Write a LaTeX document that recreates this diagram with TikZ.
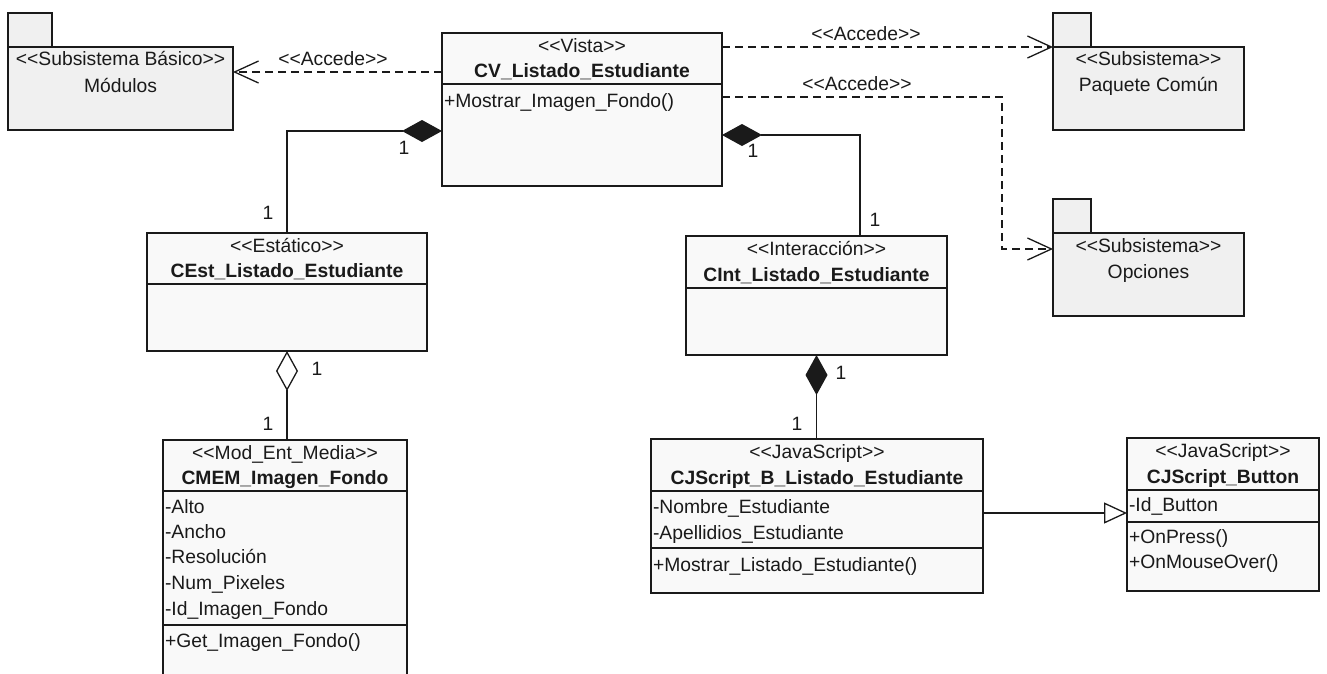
\documentclass[tikz,border=0pt]{standalone}
\usepackage{fontspec}
\setmainfont{Liberation Sans}
\usetikzlibrary{arrows.meta}

\definecolor{classfill}{HTML}{F9F9F9}
\definecolor{pkgfill}{HTML}{F0F0F0}
\definecolor{ink}{HTML}{1A1A1A}

% guillemet-like stereotype brackets kept as two separate characters
\newcommand\stereo[1]{<\kern0pt<#1>\kern0pt>}

\begin{document}
\begin{tikzpicture}[x=1pt,y=-1pt,
  every node/.style={font=\fontsize{19.3}{23}\selectfont, inner sep=0pt, outer sep=0pt, text=ink},
  classbox/.style={draw=ink, line width=1.6pt, fill=classfill, anchor=north west},
  pkgbox/.style={draw=ink, line width=1.6pt, fill=pkgfill, anchor=north west},
  txt/.style={anchor=base},
  cname/.style={anchor=base, font=\fontsize{19.3}{23}\selectfont\bfseries},
  attr/.style={anchor=base west},
  mult/.style={anchor=center},
  sep/.style={draw=ink, line width=1.6pt},
  dep/.style={draw=ink, line width=1.3pt, dash pattern=on 8pt off 5pt,
    -{Straight Barb[length=24pt,width=22pt]}},
  comp/.style={draw=ink, line width=1.3pt, {Diamond[length=40pt,width=22pt]}-},
  aggr/.style={draw=ink, line width=1.3pt, {Diamond[open,length=40pt,width=22pt,fill=white]}-},
  gen/.style={draw=ink, line width=1.3pt, -{Triangle[open,length=23pt,width=21pt,fill=white]}}
]
\useasboundingbox (0,0) rectangle (1327,673);
\clip (0,0) rectangle (1327,673);
\fill[white] (0,0) rectangle (1327,673);

% ---------- packages ----------
\node[pkgbox, minimum width=44pt, minimum height=34pt] (modtab) at (8,13) {};
\node[pkgbox, minimum width=225pt, minimum height=83pt] (mod) at (8,47) {};
\node[txt] (mod-st) at (120.5,65) {\stereo{Subsistema Básico}};
\node[txt] (mod-nm) at (120.5,92) {Módulos};

\node[pkgbox, minimum width=38pt, minimum height=34pt] (pctab) at (1053,13) {};
\node[pkgbox, minimum width=191pt, minimum height=83pt] (pc) at (1053,47) {};
\node[txt] (pc-st) at (1148.5,65) {\stereo{Subsistema}};
\node[txt] (pc-nm) at (1148.5,91) {Paquete Común};

\node[pkgbox, minimum width=38pt, minimum height=34pt] (optab) at (1053,199) {};
\node[pkgbox, minimum width=191pt, minimum height=83pt] (op) at (1053,233) {};
\node[txt] (op-st) at (1148.5,252) {\stereo{Subsistema}};
\node[txt] (op-nm) at (1148.5,278) {Opciones};

% ---------- classes ----------
% CV_Listado_Estudiante
\node[classbox, minimum width=280pt, minimum height=153pt] (cv) at (442,33) {};
\draw[sep] ([yshift=-51pt]cv.north west) -- ([yshift=-51pt]cv.north east);
\node[txt] (cv-st) at (582,52) {\stereo{Vista}};
\node[cname] (cv-nm) at (582,77) {CV\_Listado\_Estudiante};
\node[attr] (cv-m1) at (444,107) {+Mostrar\_Imagen\_Fondo()};

% CEst_Listado_Estudiante
\node[classbox, minimum width=280pt, minimum height=118pt] (cest) at (147,233) {};
\draw[sep] ([yshift=-51pt]cest.north west) -- ([yshift=-51pt]cest.north east);
\node[txt] (cest-st) at (287,252) {\stereo{Estático}};
\node[cname] (cest-nm) at (287,277) {CEst\_Listado\_Estudiante};

% CMEM_Imagen_Fondo
\node[classbox, minimum width=244pt, minimum height=270pt] (cmem) at (163,440) {};
\draw[sep] ([yshift=-51pt]cmem.north west) -- ([yshift=-51pt]cmem.north east);
\draw[sep] ([yshift=-185pt]cmem.north west) -- ([yshift=-185pt]cmem.north east);
\node[txt] (cmem-st) at (285,459) {\stereo{Mod\_Ent\_Media}};
\node[cname] (cmem-nm) at (285,484) {CMEM\_Imagen\_Fondo};
\node[attr] (cmem-a1) at (165,513) {-Alto};
\node[attr] (cmem-a2) at (165,538) {-Ancho};
\node[attr] (cmem-a3) at (165,563) {-Resolución};
\node[attr] (cmem-a4) at (165,589) {-Num\_Pixeles};
\node[attr] (cmem-a5) at (165,615) {-Id\_Imagen\_Fondo};
\node[attr] (cmem-m1) at (165,647) {+Get\_Imagen\_Fondo()};

% CInt_Listado_Estudiante
\node[classbox, minimum width=261pt, minimum height=119pt] (cint) at (686,236) {};
\draw[sep] ([yshift=-52pt]cint.north west) -- ([yshift=-52pt]cint.north east);
\node[txt] (cint-st) at (816.5,255) {\stereo{Interacción}};
\node[cname] (cint-nm) at (816.5,281) {CInt\_Listado\_Estudiante};

% CJScript_B_Listado_Estudiante
\node[classbox, minimum width=332pt, minimum height=154pt] (cjsb) at (651,439) {};
\draw[sep] ([yshift=-52pt]cjsb.north west) -- ([yshift=-52pt]cjsb.north east);
\draw[sep] ([yshift=-109pt]cjsb.north west) -- ([yshift=-109pt]cjsb.north east);
\node[txt] (cjsb-st) at (817,458) {\stereo{JavaScript}};
\node[cname] (cjsb-nm) at (817,484) {CJScript\_B\_Listado\_Estudiante};
\node[attr] (cjsb-a1) at (653,513) {-Nombre\_Estudiante};
\node[attr] (cjsb-a2) at (653,539) {-Apellidios\_Estudiante};
\node[attr] (cjsb-m1) at (653,571) {+Mostrar\_Listado\_Estudiante()};

% CJScript_Button
\node[classbox, minimum width=192pt, minimum height=153pt] (btn) at (1127,438) {};
\draw[sep] ([yshift=-52pt]btn.north west) -- ([yshift=-52pt]btn.north east);
\draw[sep] ([yshift=-84pt]btn.north west) -- ([yshift=-84pt]btn.north east);
\node[txt] (btn-st) at (1223,457) {\stereo{JavaScript}};
\node[cname] (btn-nm) at (1223,483) {CJScript\_Button};
\node[attr] (btn-a1) at (1129,511) {-Id\_Button};
\node[attr] (btn-m1) at (1129,543) {+OnPress()};
\node[attr] (btn-m2) at (1129,568) {+OnMouseOver()};

% ---------- dependencies ----------
\draw[dep] ([yshift=-39pt]cv.north west) -- ([yshift=-25pt]mod.north east);
\node[txt] (acc1) at (333,65) {\stereo{Accede}};

\draw[dep] ([yshift=-14pt]cv.north east) -- (pc.north west);
\node[txt] (acc2) at (866,40) {\stereo{Accede}};

\draw[dep] ([yshift=-64pt]cv.north east) -| ([xshift=-51pt,yshift=-16pt]op.north west)
  -- ([yshift=-16pt]op.north west);
\node[txt] (acc3) at (857,90) {\stereo{Accede}};

% ---------- compositions / aggregation ----------
\draw[comp] ([yshift=-98pt]cv.north west) -| (cest.north);
\node[mult] (m1) at (404,148) {1};
\node[mult] (m2) at (268,213) {1};

\draw[comp] ([yshift=-102pt]cv.north east) -| ([xshift=43.5pt]cint.north);
\node[mult] (m3) at (753,151) {1};
\node[mult] (m4) at (875,220) {1};

\draw[aggr] (cest.south) -- (cest.south |- cmem.north);
\node[mult] (m5) at (317,369) {1};
\node[mult] (m6) at (268,424) {1};

\draw[comp] (cint.south) -- (cint.south |- cjsb.north);
\node[mult] (m7) at (841,373) {1};
\node[mult] (m8) at (797,424) {1};

% ---------- generalization ----------
\draw[gen] ([yshift=-74pt]cjsb.north east) -- ([yshift=-75pt]btn.north west);

\end{tikzpicture}
\end{document}
